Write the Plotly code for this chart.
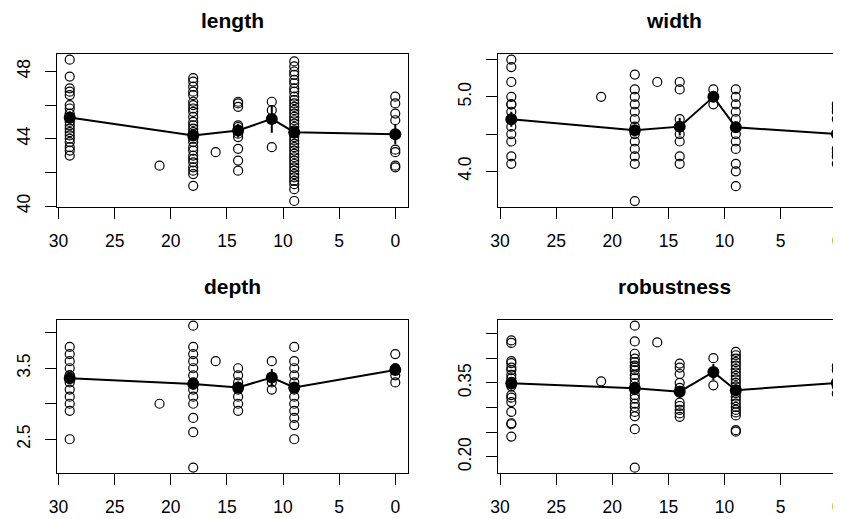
import plotly.graph_objects as go

# ---------------- data ----------------
ages = [29, 21, 18, 16, 14, 11, 9, 0]
mean_ages = [29, 18, 14, 11, 9, 0]

length_pts = [
    [48.7, 47.7, 47.0, 46.8, 46.6, 46.0, 45.8, 45.5, 45.3, 45.2, 45.0, 44.8, 44.6, 44.4, 44.2, 44.0, 43.8, 43.5, 43.3, 43.0],
    [42.4],
    [47.6, 47.4, 47.1, 46.8, 46.6, 46.2, 46.0, 45.8, 45.6, 45.3, 45.0, 44.8, 44.6, 44.4, 44.2, 44.0, 43.8, 43.5, 43.3, 43.0, 42.8, 42.6, 42.3, 42.1, 41.9, 41.2],
    [43.2],
    [46.2, 46.1, 45.9, 44.8, 44.7, 44.5, 44.3, 44.1, 43.4, 42.7, 42.1],
    [46.2, 45.7, 43.5],
    [48.6, 48.3, 48.0, 47.8, 47.5, 47.3, 47.0, 46.8, 46.5, 46.3, 46.1, 45.9, 45.7, 45.5, 45.3, 45.1, 44.9, 44.7, 44.5, 44.3, 44.1, 43.9, 43.7, 43.5, 43.3, 43.1, 42.9, 42.7, 42.5, 42.3, 42.1, 41.9, 41.7, 41.5, 41.3, 41.0, 40.3],
    [46.5, 46.1, 45.5, 45.1, 43.35, 43.2, 42.4, 42.3],
]
length_mean = [45.27, 44.2, 44.49, 45.18, 44.39, 44.27]
length_se = [0.35, 0.3, 0.4, 0.83, 0.3, 0.6]

width_pts = [
    [5.5, 5.4, 5.2, 5.0, 4.9, 4.9, 4.8, 4.7, 4.7, 4.6, 4.5, 4.4, 4.2, 4.1],
    [5.0],
    [5.3, 5.1, 5.0, 4.9, 4.8, 4.7, 4.6, 4.5, 4.4, 4.3, 4.2, 4.1, 3.6],
    [5.2],
    [5.2, 5.1, 4.7, 4.6, 4.5, 4.4, 4.2, 4.1],
    [5.1, 5.0, 4.9],
    [5.1, 5.0, 4.9, 4.8, 4.7, 4.6, 4.5, 4.4, 4.3, 4.1, 4.0, 3.8],
    [4.9, 4.85, 4.8, 4.7, 4.3, 4.25, 4.2, 4.1],
]
width_mean = [4.70, 4.55, 4.60, 5.0, 4.59, 4.50]
width_se = [0.1, 0.07, 0.12, 0.06, 0.05, 0.12]

depth_pts = [
    [3.8, 3.7, 3.6, 3.5, 3.4, 3.4, 3.3, 3.2, 3.1, 3.0, 2.9, 2.5],
    [3.0],
    [4.1, 3.8, 3.7, 3.6, 3.5, 3.4, 3.3, 3.2, 3.1, 3.0, 2.8, 2.6, 2.1],
    [3.6],
    [3.5, 3.4, 3.3, 3.2, 3.1, 3.0, 2.9],
    [3.6, 3.3, 3.2],
    [3.8, 3.6, 3.5, 3.4, 3.3, 3.2, 3.1, 3.0, 2.9, 2.8, 2.7, 2.5],
    [3.7, 3.5, 3.5, 3.4, 3.3],
]
depth_mean = [3.36, 3.28, 3.23, 3.37, 3.23, 3.475]
depth_se = [0.07, 0.08, 0.08, 0.12, 0.06, 0.07]

robust_pts = [
    [0.436, 0.431, 0.394, 0.39, 0.381, 0.376, 0.366, 0.359, 0.352, 0.347, 0.343, 0.325, 0.32, 0.311, 0.291, 0.268, 0.266, 0.241],
    [0.353],
    [0.466, 0.434, 0.409, 0.399, 0.392, 0.385, 0.381, 0.376, 0.366, 0.359, 0.349, 0.342, 0.335, 0.325, 0.318, 0.308, 0.301, 0.291, 0.282, 0.256, 0.178],
    [0.432],
    [0.389, 0.381, 0.368, 0.35, 0.34, 0.332, 0.31, 0.303, 0.295, 0.288, 0.281],
    [0.40, 0.37, 0.345],
    [0.413, 0.406, 0.399, 0.392, 0.385, 0.378, 0.371, 0.364, 0.357, 0.35, 0.343, 0.336, 0.329, 0.322, 0.315, 0.308, 0.301, 0.295, 0.29, 0.284, 0.254, 0.251],
    [0.384, 0.376, 0.35, 0.343, 0.328],
]
robust_mean = [0.349, 0.339, 0.332, 0.372, 0.335, 0.350]
robust_se = [0.012, 0.013, 0.012, 0.016, 0.008, 0.011]

titles = ["length", "width", "depth", "robustness"]
x_ticks = [30, 25, 20, 15, 10, 5, 0]
y_tickvals = [
    [40, 42, 44, 46, 48],
    [4.0, 4.5, 5.0, 5.5],
    [2.5, 3.0, 3.5, 4.0],
    [0.20, 0.25, 0.30, 0.35, 0.40, 0.45],
]
y_ticktext = [
    ["40", "", "44", "", "48"],
    ["4.0", "", "5.0", ""],
    ["2.5", "", "3.5", ""],
    ["0.20", "", "", "0.35", "", ""],
]
y_ranges = [[39.96, 49.04], [3.524, 5.576], [2.02, 4.18], [0.1665, 0.4775]]

# ---------------- layout geometry ----------------
# The page body adds an 8px offset, so the figure is drawn 8px smaller
# and all panel positions are expressed relative to that offset.
OFF = 8
W, H = 841 - OFF, 519 - OFF
left_box = (56.7 - OFF, 408.3 - OFF)
right_box = (498.3 - OFF, 841.0 - OFF)
top_box = (54.0 - OFF, 206.7 - OFF)
bot_box = (320.0 - OFF, 473.3 - OFF)
x_range_left = [30.16, -1.16]
x_range_right = [30.16, -0.37]

panels = [
    (length_pts, length_mean, length_se, left_box, top_box, x_range_left, True),
    (width_pts, width_mean, width_se, right_box, top_box, x_range_right, False),
    (depth_pts, depth_mean, depth_se, left_box, bot_box, x_range_left, True),
    (robust_pts, robust_mean, robust_se, right_box, bot_box, x_range_right, False),
]

FONT = "Liberation Sans, Arial, Helvetica, sans-serif"
fig = go.Figure()
annotations = []

for i, (pts, means, ses, xb, yb, xr, full_box) in enumerate(panels):
    n = "" if i == 0 else str(i + 1)
    xs, ys = [], []
    for a, vals in zip(ages, pts):
        xs += [a] * len(vals)
        ys += vals
    fig.add_trace(go.Scatter(
        x=xs, y=ys, mode="markers", xaxis="x" + n, yaxis="y" + n,
        marker=dict(symbol="circle-open", size=9, color="black", line=dict(width=1.2, color="black")),
        showlegend=False, hoverinfo="skip"))
    fig.add_trace(go.Scatter(
        x=mean_ages, y=means, mode="lines+markers", xaxis="x" + n, yaxis="y" + n,
        line=dict(color="black", width=2),
        marker=dict(symbol="circle", size=12, color="black"),
        error_y=dict(type="data", array=ses, visible=True, width=0, thickness=2, color="black"),
        showlegend=False, hoverinfo="skip"))

    xd = [xb[0] / W, min(xb[1] / W, 1.0)]
    yd = [1 - yb[1] / H, 1 - yb[0] / H]
    fig.layout["xaxis" + n] = dict(
        domain=xd, range=xr, anchor="y" + n, tickmode="array", tickvals=x_ticks,
        ticktext=[str(t) for t in x_ticks], automargin=False, ticklabeloverflow="allow",
        showline=True, linecolor="black", linewidth=1.3, mirror=True,
        ticks="outside", ticklen=11, tickwidth=1.3, tickcolor="black",
        showgrid=False, zeroline=False, ticklabelstandoff=7,
        tickfont=dict(family=FONT, size=17.5, color="black"))
    fig.layout["yaxis" + n] = dict(
        domain=yd, range=y_ranges[i], anchor="x" + n, tickmode="array",
        tickvals=y_tickvals[i], ticktext=y_ticktext[i], tickangle=-90, automargin=False,
        showline=True, linecolor="black", linewidth=1.3, mirror=full_box,
        ticks="outside", ticklen=11, tickwidth=1.3, tickcolor="black",
        showgrid=False, zeroline=False, ticklabelstandoff=8,
        tickfont=dict(family=FONT, size=17.5, color="black"))
    annotations.append(dict(
        text="<b>%s</b>" % titles[i], xref="paper", yref="paper",
        x=(xb[0] + (xb[0] + 351.6)) / 2 / W, y=1 - (yb[0] - 34) / H,
        xanchor="center", yanchor="middle", showarrow=False,
        font=dict(family=FONT, size=21, color="black")))

fig.update_layout(
    width=W, height=H, autosize=False,
    margin=dict(l=0, r=0, t=0, b=0, pad=0, autoexpand=False),
    paper_bgcolor="white", plot_bgcolor="white",
    annotations=annotations,
)

fig.write_html("out.html")
